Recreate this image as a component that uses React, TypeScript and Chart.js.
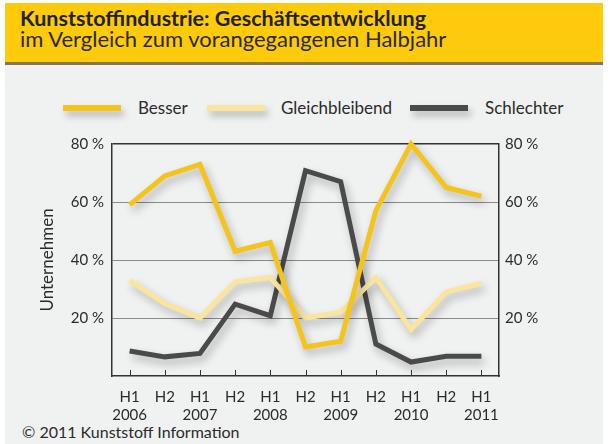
import React, { useEffect, useRef } from "react";
import { Chart, registerables } from "chart.js";
Chart.register(...registerables);

const halfYears = ["H1", "H2", "H1", "H2", "H1", "H2", "H1", "H2", "H1", "H2", "H1"];
const years = ["2006", "", "2007", "", "2008", "", "2009", "", "2010", "", "2011"];
const besser = [59, 69, 73, 43, 46, 10, 12, 57, 80, 65, 62];
const gleichbleibend = [33, 25, 20, 32.5, 34, 20, 22, 34, 16, 29, 32];
const schlechter = [8.6, 6.6, 7.8, 24.8, 20.8, 70.8, 67, 11, 4.8, 6.8, 6.8];
const seriesNames = ["Besser", "Gleichbleibend", "Schlechter"];
const seriesColors = ["#F4C41C", "#FBE59C", "#4A4A4A"];
const yMin = 0;
const yMax = 80;
const yStep = 20;

const FONT = "Lato, 'Open Sans', sans-serif";
const TEXT = "#2b2b2b";

const shadowPlugin = {
  id: "lineShadow",
  beforeDatasetDraw(chart: any) {
    const ctx = chart.ctx;
    ctx.save();
    ctx.shadowColor = "rgba(0,0,0,0.28)";
    ctx.shadowBlur = 8;
    ctx.shadowOffsetX = 3;
    ctx.shadowOffsetY = 5;
  },
  afterDatasetDraw(chart: any) {
    chart.ctx.restore();
  },
};

const innerTicksPlugin = {
  id: "innerTicks",
  afterDraw(chart: any) {
    const ctx = chart.ctx;
    const x = chart.scales.x;
    const bottom = chart.chartArea.bottom;
    ctx.save();
    ctx.strokeStyle = "#333";
    ctx.lineWidth = 1;
    for (let i = 0; i < x.ticks.length; i++) {
      const px = Math.round(x.getPixelForTick(i)) + 0.5;
      ctx.beginPath();
      ctx.moveTo(px, bottom);
      ctx.lineTo(px, bottom - 6);
      ctx.stroke();
    }
    ctx.restore();
  },
};

export default function App() {
  const ref = useRef<HTMLCanvasElement | null>(null);

  useEffect(() => {
    if (!ref.current) return;
    const labels = halfYears.map((h, i) => (years[i] ? [h, years[i]] : h));
    const tickFont = { family: FONT, size: 15 };
    const tickCb = (v: any) => (v === 0 ? null : v + " %");
    const chart = new Chart(ref.current, {
      type: "line",
      data: {
        labels,
        datasets: [besser, gleichbleibend, schlechter].map((d, i) => ({
          label: seriesNames[i],
          data: d,
          borderColor: seriesColors[i],
          backgroundColor: seriesColors[i],
          borderWidth: 5,
          pointRadius: 0,
          tension: 0,
          borderJoinStyle: "miter" as const,
          clip: false as any,
        })),
      },
      options: {
        animation: false,
        responsive: true,
        maintainAspectRatio: false,
        layout: { padding: { top: 144, left: 0, right: 0, bottom: 0 } },
        plugins: { legend: { display: false }, tooltip: { enabled: false } },
        scales: {
          x: {
            offset: true,
            grid: { display: false },
            border: { display: true, color: "#333", width: 1.5 },
            ticks: { font: tickFont, color: TEXT, padding: 4, maxRotation: 0, autoSkip: false },
            afterFit: (s: any) => {
              s.height = 68;
            },
          },
          y: {
            position: "left",
            min: yMin,
            max: yMax,
            ticks: { stepSize: yStep, font: tickFont, color: TEXT, padding: 8, callback: tickCb },
            grid: {
              drawTicks: false,
              color: (c: any) => (c.tick.value === 80 ? "#333" : c.tick.value === 0 ? "rgba(0,0,0,0)" : "#8a8a8a"),
              lineWidth: (c: any) => (c.tick.value === 80 ? 1.5 : 1),
            },
            border: { display: true, color: "#333", width: 1.5 },
            title: {
              display: true,
              text: "Unternehmen",
              font: { family: FONT, size: 17 },
              color: TEXT,
              padding: { top: 37, bottom: 0 },
            },
            afterFit: (s: any) => {
              s.width = 112;
            },
          },
          y2: {
            position: "right",
            min: yMin,
            max: yMax,
            ticks: { stepSize: yStep, font: tickFont, color: TEXT, padding: 6, callback: tickCb },
            grid: { display: false, drawTicks: false },
            border: { display: true, color: "#333", width: 1.5 },
            afterFit: (s: any) => {
              s.width = 111;
            },
          },
        },
      },
      plugins: [shadowPlugin, innerTicksPlugin],
    });
    return () => chart.destroy();
  }, []);

  const abs = (o: any): React.CSSProperties => ({ position: "absolute", ...o });
  const legendLefts = [63, 207, 410];
  const legendTextLefts = [138, 281, 485];

  return (
    <div style={{ position: "fixed", left: 0, top: 0, width: 610, height: 444, background: "#fff", overflow: "hidden", fontFamily: FONT }}>
      <div style={abs({ left: 5, top: 3, width: 598, height: 59, background: "#FDCB0B", borderBottom: "3px solid #857650" })} />
      <div style={abs({ left: 5, top: 65, width: 598, height: 379, background: "#F0F1F1" })} />
      <div style={abs({ left: 20, top: 8, fontSize: 21.5, lineHeight: 1, fontWeight: 700, color: "#222", whiteSpace: "nowrap" })}>
        Kunststoffindustrie: Geschäftsentwicklung
      </div>
      <div style={abs({ left: 20, top: 27.5, fontSize: 22, lineHeight: 1, color: "#2a2a2a", whiteSpace: "nowrap" })}>
        im Vergleich zum vorangegangenen Halbjahr
      </div>
      {seriesNames.map((n, i) => (
        <React.Fragment key={n}>
          <div style={abs({ left: legendLefts[i], top: 105, width: 58, height: 6, background: seriesColors[i], boxShadow: "3px 5px 7px rgba(0,0,0,0.25)" })} />
          <div style={abs({ left: legendTextLefts[i], top: 99, fontSize: 17, lineHeight: 1, color: TEXT, whiteSpace: "nowrap" })}>{n}</div>
        </React.Fragment>
      ))}
      <div style={abs({ left: 22, top: 423.5, fontSize: 16, lineHeight: 1, color: TEXT, whiteSpace: "nowrap" })}>
        © 2011 Kunststoff Information
      </div>
      <div style={abs({ left: 0, top: 0, width: 610, height: 444 })}>
        <canvas ref={ref} />
      </div>
    </div>
  );
}
